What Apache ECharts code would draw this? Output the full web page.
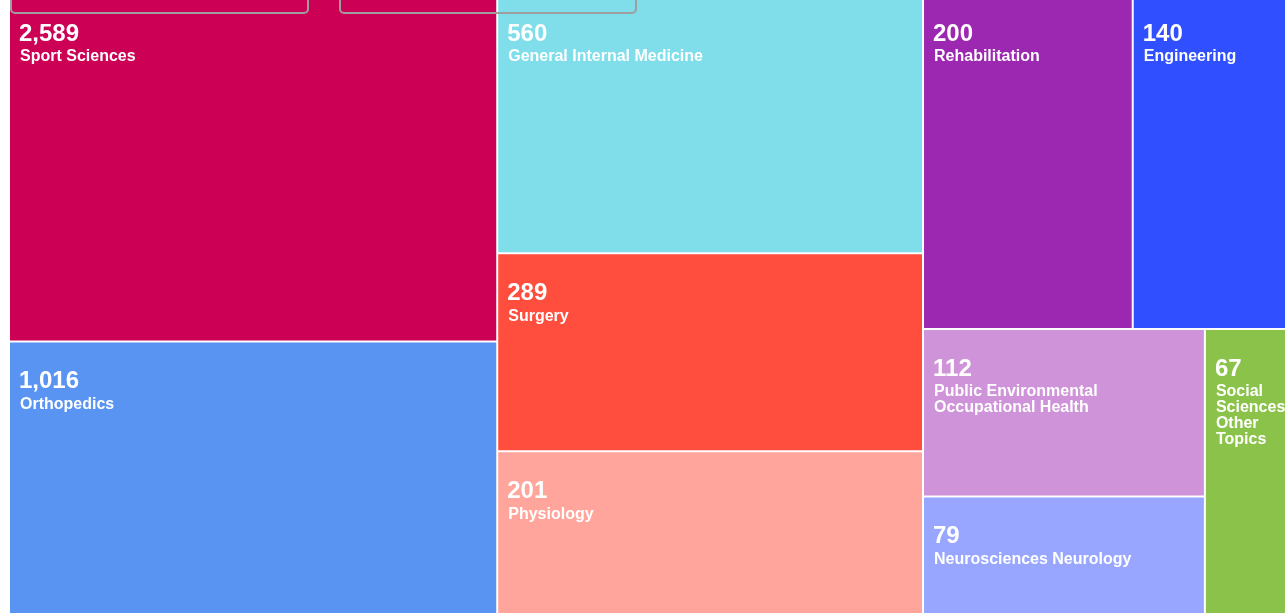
<!DOCTYPE html>
<html>
<head>
<meta charset="utf-8">
<title>Research areas treemap</title>
<script src="https://cdn.jsdelivr.net/npm/echarts@6/dist/echarts.min.js"></script>
<style>
  html, body { margin: 0; padding: 0; background: #fff; }
  #chart { width: 1285px; height: 613px; }
</style>
</head>
<body>
<div id="chart"></div>
<script>
// research areas and record counts
const areaNames = [
  'Sport Sciences', 'Orthopedics', 'General Internal Medicine', 'Surgery', 'Physiology',
  'Rehabilitation', 'Engineering', 'Public Environmental Occupational Health',
  'Neurosciences Neurology', 'Social Sciences Other Topics'
];
const recordCounts = [2589, 1016, 560, 289, 201, 200, 140, 112, 79, 67];
// tiles in the original are not sized by the counts, so the weights are read off the tile areas
const tileWeight = [169, 136, 110, 84, 72, 70, 54.5, 47, 35, 26.5];

const tileColors = [
  '#cc0054', '#5a94f2', '#80deea', '#ff4e3e', '#ffa59c',
  '#9c27b0', '#304ffe', '#ce93d8', '#98a6ff', '#8bc34a'
];

const chart = echarts.init(document.getElementById('chart'));

const treeData = areaNames.map((name, i) => ({
  name: name,
  value: [tileWeight[i], recordCounts[i]],
  itemStyle: { color: tileColors[i] }
}));

const option = {
  backgroundColor: '#fff',
  textStyle: { fontFamily: "'Liberation Sans', Arial, sans-serif" },
  series: [
    {
      type: 'treemap',
      left: 10,
      top: -5,
      width: 1285,
      height: 625,
      roam: false,
      nodeClick: false,
      breadcrumb: { show: false },
      animation: false,
      levels: [
        { itemStyle: { gapWidth: 2, borderWidth: 0 } }
      ],
      itemStyle: { borderWidth: 0 },
      label: {
        show: true,
        position: 'insideTopLeft',
        distance: 0,
        padding: [24, 0, 0, 0],
        overflow: 'break',
        color: '#fff',
        formatter: function (p) {
          // newline sits inside the name token, otherwise the wrap drops it
          return '{v|' + echarts.format.addCommas(p.value[1]) + '}{n|\n' + p.name + '}';
        },
        rich: {
          // left inset kept on the tokens so the wrap width stays the full tile
          v: { fontSize: 24, fontWeight: 'bold', lineHeight: 30, color: '#fff', padding: [0, 0, 0, 9] },
          n: { fontSize: 16, fontWeight: 'bold', lineHeight: 16, color: '#fff', padding: [0, 0, 0, 10] }
        }
      },
      data: treeData
    }
  ],
  // outlines of the two page controls that overlap the top edge
  graphic: [
    {
      type: 'rect', z: 100,
      shape: { x: 11, y: -20, width: 297, height: 33, r: 4 },
      style: { fill: 'none', stroke: '#9e9e9e', lineWidth: 2 }
    },
    {
      type: 'rect', z: 100,
      shape: { x: 340, y: -20, width: 296, height: 33, r: 4 },
      style: { fill: 'none', stroke: '#9e9e9e', lineWidth: 2 }
    }
  ]
};

chart.setOption(option);
</script>
</body>
</html>
